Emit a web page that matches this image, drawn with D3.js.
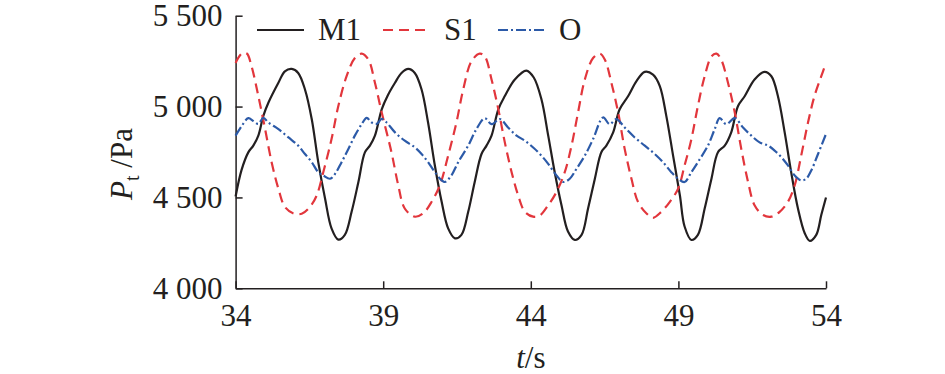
<!DOCTYPE html>
<html lang="zh">
<head>
    <meta charset="UTF-8">
    <title>Pt - t</title>
    <script src="https://d3js.org/d3.v7.min.js"></script>
    <style>
        body {
            margin: 0;
            background: #fff;
        }
        svg {
            display: block;
        }
        .axis path, .axis line {
            stroke: #231f20;
            stroke-width: 1.5px;
        }
    </style>
</head>
<body>
<script>
    // values (t in s, Pt in Pa)
    const m1Time = [34.0, 34.2, 34.43, 34.6, 34.77, 34.94, 35.11, 35.45, 35.67, 35.9, 36.12, 36.35, 36.58, 36.8, 37.03, 37.25, 37.48, 37.7, 37.93, 38.16,
        38.38, 38.55, 38.72, 38.95, 39.15, 39.4, 39.62, 39.85, 40.07, 40.3, 40.52, 40.75, 40.98, 41.2, 41.43, 41.65, 41.88, 42.1, 42.33, 42.5,
        42.67, 42.9, 43.12, 43.46, 43.85, 44.1, 44.36, 44.59, 44.81, 45.04, 45.26, 45.49, 45.72, 45.94, 46.17, 46.39, 46.56, 46.79, 47.01, 47.3,
        47.58, 47.86, 48.14, 48.37, 48.59, 48.82, 49.05, 49.21, 49.44, 49.66, 49.89, 50.12, 50.34, 50.57, 50.79, 51.02, 51.25, 51.58, 51.92, 52.15,
        52.37, 52.6, 52.82, 53.05, 53.28, 53.45, 53.67, 53.84, 54.0];
    const m1Pt = [4505, 4650, 4748, 4785, 4840, 4949, 5021, 5131, 5194, 5207, 5185, 5094, 4930, 4694, 4494, 4330, 4268, 4294, 4421, 4585,
        4748, 4785, 4840, 4985, 5060, 5131, 5185, 5207, 5185, 5094, 4912, 4676, 4476, 4330, 4275, 4294, 4421, 4585, 4739, 4785,
        4840, 4985, 5058, 5149, 5198, 5160, 5040, 4840, 4639, 4457, 4312, 4266, 4294, 4439, 4603, 4749, 4785, 4858, 4985, 5058,
        5140, 5191, 5176, 5113, 4949, 4730, 4512, 4340, 4266, 4294, 4439, 4603, 4749, 4785, 4858, 5003, 5058, 5149, 5191, 5167,
        5058, 4858, 4639, 4439, 4303, 4261, 4294, 4403, 4500];

    const s1Time = [34.0, 34.21, 34.38, 34.54, 34.77, 35.0, 35.22, 35.45, 35.67, 35.96, 36.24, 36.52, 36.75, 36.97, 37.25, 37.48, 37.76, 38.04, 38.27, 38.5,
        38.72, 38.95, 39.28, 39.51, 39.73, 40.07, 40.35, 40.64, 40.92, 41.2, 41.48, 41.71, 41.99, 42.27, 42.44, 42.67, 42.9, 43.12, 43.35, 43.57,
        43.8, 44.08, 44.3, 44.59, 44.87, 45.15, 45.38, 45.6, 45.83, 46.11, 46.34, 46.51, 46.73, 46.96, 47.18, 47.41, 47.63, 47.92, 48.14, 48.42,
        48.71, 48.99, 49.21, 49.44, 49.66, 49.89, 50.12, 50.29, 50.45, 50.68, 50.91, 51.13, 51.36, 51.58, 51.87, 52.15, 52.43, 52.71, 52.94, 53.16,
        53.39, 53.61, 53.84, 54.0];
    const s1Pt = [5240, 5292, 5292, 5222, 5058, 4876, 4694, 4548, 4448, 4412, 4410, 4448, 4512, 4639, 4821, 5003, 5167, 5267, 5291, 5258,
        5131, 4967, 4749, 4567, 4439, 4394, 4412, 4476, 4567, 4730, 4912, 5094, 5249, 5291, 5276, 5149, 4985, 4803, 4639, 4512,
        4421, 4394, 4400, 4457, 4530, 4639, 4785, 4967, 5149, 5267, 5291, 5258, 5131, 4967, 4767, 4603, 4476, 4412, 4388, 4421,
        4476, 4548, 4676, 4821, 5003, 5167, 5276, 5291, 5258, 5131, 4967, 4767, 4585, 4457, 4403, 4394, 4421, 4476, 4567, 4730,
        4912, 5058, 5167, 5240];

    const oTime = [34.0, 34.21, 34.43, 34.6, 34.77, 34.94, 35.11, 35.45, 35.79, 36.12, 36.35, 36.58, 36.8, 36.97, 37.2, 37.37, 37.59, 37.82, 38.04, 38.27,
        38.44, 38.61, 38.78, 38.95, 39.1, 39.4, 39.73, 40.07, 40.3, 40.52, 40.75, 40.98, 41.09, 41.31, 41.54, 41.88, 42.16, 42.44, 42.67, 42.95,
        43.23, 43.52, 43.8, 44.1, 44.36, 44.59, 44.87, 45.1, 45.32, 45.55, 45.83, 46.11, 46.45, 46.67, 46.9, 47.18, 47.52, 47.86, 48.2, 48.48,
        48.76, 48.99, 49.21, 49.44, 49.66, 50.0, 50.23, 50.4, 50.62, 50.91, 51.19, 51.47, 51.75, 52.04, 52.26, 52.49, 52.71, 52.94, 53.16, 53.33,
        53.5, 53.73, 54.0];
    const oPt = [4840, 4894, 4936, 4921, 4905, 4938, 4912, 4876, 4830, 4785, 4739, 4694, 4639, 4621, 4603, 4630, 4694, 4767, 4840, 4903,
        4938, 4912, 4905, 4932, 4915, 4858, 4812, 4776, 4739, 4694, 4639, 4594, 4585, 4621, 4694, 4785, 4876, 4936, 4903, 4931,
        4885, 4840, 4812, 4772, 4730, 4685, 4621, 4585, 4603, 4658, 4730, 4821, 4940, 4903, 4931, 4885, 4830, 4785, 4739, 4694,
        4639, 4603, 4585, 4639, 4694, 4785, 4876, 4936, 4903, 4936, 4885, 4840, 4803, 4785, 4758, 4721, 4676, 4621, 4594, 4603,
        4648, 4739, 4849];

    const xTicks = [34, 39, 44, 49, 54];
    const yTicks = [4000, 4500, 5000, 5500];
    const seriesNames = ["M1", "S1", "O"];

    const width = 945, height = 374;
    const serif = "Liberation Serif";
    const ink = "#231f20";

    const svg = d3.select("body").append("svg")
        .attr("width", width)
        .attr("height", height)
        .attr("font-family", serif)
        .attr("font-size", 31);

    const x = d3.scaleLinear().domain([34, 54]).range([235.6, 826]);
    const y = d3.scaleLinear().domain([4000, 5500]).range([288.3, 15.7]);

    const fmt = d3.formatLocale({ decimal: ".", thousands: " ", grouping: [3], currency: ["", ""] }).format(",");

    const xAxis = svg.append("g")
        .attr("class", "axis")
        .attr("transform", `translate(0,${y(4000)})`)
        .call(d3.axisBottom(x).tickValues(xTicks).tickSizeInner(-7).tickSizeOuter(0).tickPadding(16).tickFormat(d3.format("d")));

    const yAxis = svg.append("g")
        .attr("class", "axis")
        .attr("transform", `translate(${x(34)},0)`)
        .call(d3.axisLeft(y).tickValues(yTicks).tickSizeInner(-7).tickSizeOuter(0).tickPadding(13).tickFormat(fmt));

    // d3 sets font-family="sans-serif" and font-size=10 on the axis group
    [xAxis, yAxis].forEach(g => {
        g.attr("font-family", serif).attr("font-size", 31);
        g.selectAll("text").attr("font-family", serif).attr("fill", ink);
    });

    // axis titles
    const xt = svg.append("text")
        .attr("x", (x(34) + x(54)) / 2)
        .attr("y", 368)
        .attr("text-anchor", "middle")
        .attr("font-family", serif)
        .attr("fill", ink);
    xt.append("tspan").attr("font-style", "italic").text("t");
    xt.append("tspan").text("/s");

    const yt = svg.append("text")
        .attr("transform", "translate(132,164) rotate(-90)")
        .attr("text-anchor", "middle")
        .attr("font-family", serif)
        .attr("fill", ink);
    yt.append("tspan").attr("font-style", "italic").text("P");
    yt.append("tspan").attr("dy", 7).attr("font-size", 20).text("t");
    yt.append("tspan").attr("dy", -7).text(" /Pa");

    // series
    const series = [
        { name: seriesNames[0], t: m1Time, p: m1Pt, color: ink, dash: null, lx: 257 },
        { name: seriesNames[1], t: s1Time, p: s1Pt, color: "#e2363c", dash: "10,6", lx: 383 },
        { name: seriesNames[2], t: oTime, p: oPt, color: "#2c5aa8", dash: "10,3,2,3", lx: 498 }
    ];

    const line = d3.line()
        .x(d => x(d[0]))
        .y(d => y(d[1]))
        .curve(d3.curveCatmullRom.alpha(0.5));

    series.forEach(s => {
        svg.append("path")
            .datum(s.t.map((t, i) => [t, s.p[i]]))
            .attr("fill", "none")
            .attr("stroke", s.color)
            .attr("stroke-width", 2.2)
            .attr("stroke-dasharray", s.dash)
            .attr("d", line);
    });

    // legend
    const legend = svg.append("g");
    series.forEach(s => {
        legend.append("line")
            .attr("x1", s.lx).attr("x2", s.lx + 47)
            .attr("y1", 30).attr("y2", 30)
            .attr("stroke", s.color)
            .attr("stroke-width", 2)
            .attr("stroke-dasharray", s.dash);
        legend.append("text")
            .attr("x", s.lx + 61)
            .attr("y", 40)
            .attr("font-family", serif)
            .attr("fill", ink)
            .text(s.name);
    });
</script>
</body>
</html>
